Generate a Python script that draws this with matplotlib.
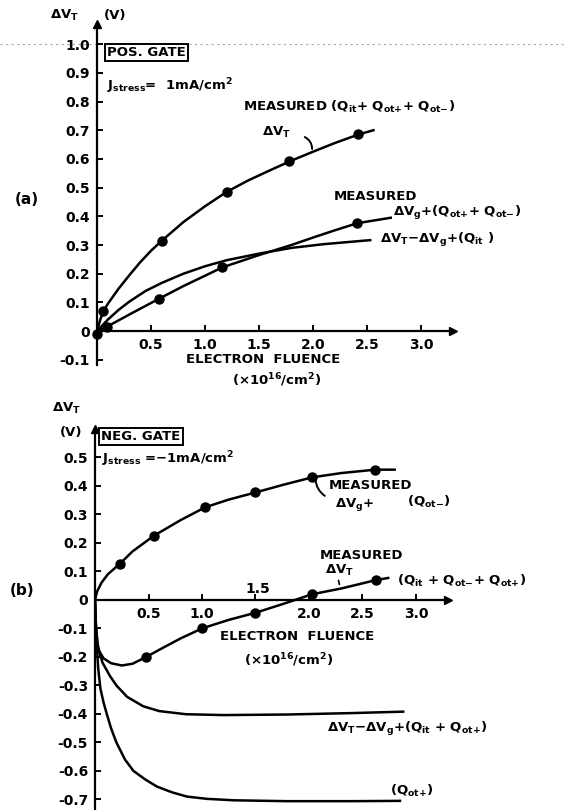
import matplotlib
matplotlib.use('Agg')
import matplotlib.pyplot as plt
from matplotlib.lines import Line2D

plt.rcParams['font.family'] = 'DejaVu Sans'
plt.rcParams['font.weight'] = 'bold'
plt.rcParams['mathtext.fontset'] = 'dejavusans'
plt.rcParams['mathtext.default'] = 'bf'

# ---- panel (a): positive gate ----
a_vt_x = [0, 0.03, 0.06, 0.1, 0.2, 0.3, 0.4, 0.5, 0.6, 0.8, 1.0, 1.2, 1.4, 1.6, 1.8, 2.0, 2.2, 2.42, 2.56]
a_vt_y = [0, 0.04, 0.07, 0.095, 0.148, 0.195, 0.24, 0.28, 0.315, 0.38, 0.435, 0.485, 0.525, 0.56, 0.594,
          0.625, 0.655, 0.685, 0.70]
a_vt_pts_x = [0.0, 0.06, 0.6, 1.2, 1.78, 2.42]
a_vt_pts_y = [-0.01, 0.07, 0.315, 0.485, 0.594, 0.688]

a_vg_x = [0, 0.09, 0.3, 0.57, 0.8, 1.0, 1.16, 1.5, 1.8, 2.0, 2.2, 2.41, 2.72]
a_vg_y = [0, 0.015, 0.058, 0.112, 0.157, 0.193, 0.222, 0.265, 0.30, 0.326, 0.351, 0.376, 0.395]
a_vg_pts_x = [0.09, 0.57, 1.16, 2.41]
a_vg_pts_y = [0.015, 0.112, 0.222, 0.376]

a_it_x = [0, 0.1, 0.2, 0.3, 0.45, 0.6, 0.8, 1.0, 1.2, 1.5, 1.8, 2.1, 2.53]
a_it_y = [0, 0.04, 0.074, 0.103, 0.14, 0.168, 0.2, 0.226, 0.247, 0.27, 0.29, 0.303, 0.317]

a_yticks = [-0.1, 0, 0.1, 0.2, 0.3, 0.4, 0.5, 0.6, 0.7, 0.8, 0.9, 1.0]
a_ylabels = ['-0.1', '0', '0.1', '0.2', '0.3', '0.4', '0.5', '0.6', '0.7', '0.8', '0.9', '1.0']
a_xticks = [0.5, 1.0, 1.5, 2.0, 2.5, 3.0]
a_xlabels = ['0.5', '1.0', '1.5', '2.0', '2.5', '3.0']

# ---- panel (b): negative gate ----
b_vg_x = [0, 0.02, 0.06, 0.12, 0.23, 0.35, 0.55, 0.8, 1.03, 1.25, 1.5, 1.75, 2.03, 2.3, 2.62, 2.8]
b_vg_y = [0, 0.03, 0.06, 0.09, 0.126, 0.17, 0.225, 0.28, 0.325, 0.352, 0.377, 0.403, 0.43, 0.445, 0.457, 0.457]
b_vg_pts_x = [0.23, 0.55, 1.03, 1.50, 2.03, 2.62]
b_vg_pts_y = [0.126, 0.225, 0.325, 0.377, 0.43, 0.457]

b_vt_x = [0, 0.005, 0.01, 0.02, 0.04, 0.08, 0.15, 0.25, 0.35, 0.48, 0.6, 0.8, 1.0, 1.25, 1.5, 1.75, 2.03,
          2.3, 2.63, 2.74]
b_vt_y = [0, -0.06, -0.1, -0.15, -0.18, -0.205, -0.222, -0.23, -0.224, -0.2, -0.175, -0.135, -0.1, -0.07,
          -0.045, -0.015, 0.02, 0.04, 0.07, 0.077]
b_vt_pts_x = [0.48, 1.0, 1.5, 2.03, 2.63]
b_vt_pts_y = [-0.2, -0.097, -0.045, 0.02, 0.07]

b_it_x = [0, 0.01, 0.03, 0.07, 0.14, 0.2, 0.3, 0.45, 0.6, 0.85, 1.2, 1.8, 2.4, 2.88]
b_it_y = [0, -0.1, -0.17, -0.22, -0.267, -0.30, -0.34, -0.373, -0.39, -0.401, -0.404, -0.402, -0.397, -0.392]

b_ot_x = [0, 0.01, 0.03, 0.05, 0.08, 0.11, 0.15, 0.2, 0.28, 0.36, 0.47, 0.58, 0.72, 0.86, 1.05, 1.3, 1.8,
          2.4, 2.85]
b_ot_y = [0, -0.12, -0.24, -0.31, -0.36, -0.40, -0.45, -0.5, -0.56, -0.6, -0.63, -0.655, -0.675, -0.69,
          -0.698, -0.703, -0.706, -0.706, -0.705]

b_yticks = [-0.7, -0.6, -0.5, -0.4, -0.3, -0.2, -0.1, 0, 0.1, 0.2, 0.3, 0.4, 0.5]
b_ylabels = ['-0.7', '-0.6', '-0.5', '-0.4', '-0.3', '-0.2', '-0.1', '0', '0.1', '0.2', '0.3', '0.4', '0.5']
b_xticks = [0.5, 1.0, 1.5, 2.0, 2.5, 3.0]
b_xlabels = ['0.5', '1.0', '', '2.0', '2.5', '3.0']

LW = 1.8
MS = 6.5


def setup(ax):
    for s in ['top', 'right']:
        ax.spines[s].set_visible(False)
    for s in ['left', 'bottom']:
        ax.spines[s].set_position(('data', 0))
        ax.spines[s].set_linewidth(1.6)
    ax.tick_params(direction='in', length=4, width=1.4, labelsize=10, pad=5)
    ax.patch.set_visible(False)
    ax.plot(1, 0, '>k', ms=6, transform=ax.get_yaxis_transform(), clip_on=False)
    ax.plot(0, 1, '^k', ms=6, transform=ax.get_xaxis_transform(), clip_on=False)


fig = plt.figure(figsize=(5.67, 8.10), dpi=100)

# scanner artefact line at the top
fig.add_artist(Line2D([0, 1], [1 - 44 / 810, 1 - 44 / 810], color='0.65', lw=0.8,
                      ls=(0, (2, 3)), zorder=-5))

# ---------------- (a) ----------------
axa = fig.add_axes([97 / 567, 1 - 365 / 810, 3.3 * 108 / 567, 341 / 810])
setup(axa)
axa.set_xlim(0, 3.3)
axa.set_ylim(-0.118, 1.07)
axa.set_yticks(a_yticks, a_ylabels)
axa.set_xticks(a_xticks, a_xlabels)

axa.plot(a_vt_x, a_vt_y, 'k-', lw=LW, clip_on=False)
axa.plot(a_vt_pts_x, a_vt_pts_y, 'ko', ms=MS, clip_on=False)
axa.plot(a_vg_x, a_vg_y, 'k-', lw=LW, clip_on=False)
axa.plot(a_vg_pts_x, a_vg_pts_y, 'ko', ms=MS, clip_on=False)
axa.plot(a_it_x, a_it_y, 'k-', lw=LW, clip_on=False)

fs = 9.5
axa.text(-0.30, 1.10, r'$\Delta$V$_T$', fontsize=fs, ha='center', va='center', clip_on=False)
axa.text(0.06, 1.10, '(V)', fontsize=fs, ha='left', va='center', clip_on=False)
axa.text(0.46, 0.972, 'POS. GATE', fontsize=9.5, ha='center', va='center',
         bbox=dict(boxstyle='square,pad=0.15', fc='white', ec='black', lw=1.4))
axa.text(0.09, 0.854, r'J$_{stress}$=  1mA/cm$^2$', fontsize=fs, ha='left', va='center')
axa.text(1.35, 0.78, r'MEASURED (Q$_{it}$+ Q$_{ot{+}}$+ Q$_{ot{-}}$)', fontsize=fs, ha='left',
         va='center')
axa.text(1.53, 0.693, r'$\Delta$V$_T$', fontsize=fs, ha='left', va='center')
axa.annotate('', xy=(1.99, 0.625), xytext=(1.90, 0.68),
             arrowprops=dict(arrowstyle='-', lw=1.4, connectionstyle='arc3,rad=-0.4'))
axa.text(-0.65, 0.46, '(a)', fontsize=11, ha='center', va='center', clip_on=False)
axa.text(2.19, 0.47, 'MEASURED', fontsize=fs, ha='left', va='center')
axa.text(2.74, 0.411, r'$\Delta$V$_g$+(Q$_{ot{+}}$+ Q$_{ot{-}}$)', fontsize=fs, ha='left',
         va='center', clip_on=False)
axa.text(2.62, 0.317, r'$\Delta$V$_T$$-\Delta$V$_g$+(Q$_{it}$ )', fontsize=fs, ha='left', va='center',
         clip_on=False)
axa.text(1.54, -0.10, 'ELECTRON  FLUENCE', fontsize=fs, ha='center', va='center')
axa.text(1.66, -0.17, r'($\times$10$^{16}$/cm$^2$)', fontsize=fs, ha='center', va='center', clip_on=False)

# ---------------- (b) ----------------
axb = fig.add_axes([95 / 567, 0, 3.3 * 107 / 567, (810 - 428.9) / 810])
setup(axb)
axb.set_xlim(0, 3.3)
axb.set_ylim(-0.737, 0.6)
axb.set_yticks(b_yticks, b_ylabels)
axb.set_xticks(b_xticks, b_xlabels)

axb.plot(b_vg_x, b_vg_y, 'k-', lw=LW)
axb.plot(b_vg_pts_x, b_vg_pts_y, 'ko', ms=MS)
axb.plot(b_vt_x, b_vt_y, 'k-', lw=LW)
axb.plot(b_vt_pts_x, b_vt_pts_y, 'ko', ms=MS)
axb.plot(b_it_x, b_it_y, 'k-', lw=LW)
axb.plot(b_ot_x, b_ot_y, 'k-', lw=LW)

axb.text(-0.27, 0.672, r'$\Delta$V$_T$', fontsize=fs, ha='center', va='center', clip_on=False)
axb.text(-0.22, 0.586, '(V)', fontsize=fs, ha='center', va='center', clip_on=False)
axb.text(0.43, 0.575, 'NEG. GATE', fontsize=9.5, ha='center', va='center',
         bbox=dict(boxstyle='square,pad=0.15', fc='white', ec='black', lw=1.4))
axb.text(0.065, 0.492, r'J$_{stress}$ =$-$1mA/cm$^2$', fontsize=fs, ha='left', va='center')
axb.text(2.18, 0.40, 'MEASURED', fontsize=fs, ha='left', va='center')
axb.text(2.24, 0.336, r'$\Delta$V$_g$+', fontsize=fs, ha='left', va='center')
axb.text(2.92, 0.345, r'(Q$_{ot{-}}$)', fontsize=fs, ha='left', va='center')
axb.annotate('', xy=(2.06, 0.432), xytext=(2.17, 0.36),
             arrowprops=dict(arrowstyle='-', lw=1.4, connectionstyle='arc3,rad=-0.3'))
axb.text(2.10, 0.155, 'MEASURED', fontsize=fs, ha='left', va='center')
axb.text(2.15, 0.103, r'$\Delta$V$_T$', fontsize=fs, ha='left', va='center')
axb.annotate('', xy=(2.29, 0.045), xytext=(2.27, 0.078),
             arrowprops=dict(arrowstyle='-', lw=1.2))
axb.text(2.82, 0.065, r'(Q$_{it}$ + Q$_{ot{-}}$+ Q$_{ot{+}}$)', fontsize=fs, ha='left', va='center',
         clip_on=False)
axb.text(-0.68, 0.034, '(b)', fontsize=11, ha='center', va='center', clip_on=False)
axb.text(1.52, 0.04, '1.5', fontsize=10, ha='center', va='center')
axb.text(1.89, -0.127, 'ELECTRON  FLUENCE', fontsize=fs, ha='center', va='center')
axb.text(1.81, -0.21, r'($\times$10$^{16}$/cm$^2$)', fontsize=fs, ha='center', va='center')
axb.text(2.17, -0.452, r'$\Delta$V$_T$$-\Delta$V$_g$+(Q$_{it}$ + Q$_{ot{+}}$)', fontsize=fs,
         ha='left', va='center', clip_on=False)
axb.text(2.76, -0.671, r'(Q$_{ot{+}}$)', fontsize=fs, ha='left', va='center')

fig.savefig('out.png', dpi=100)
